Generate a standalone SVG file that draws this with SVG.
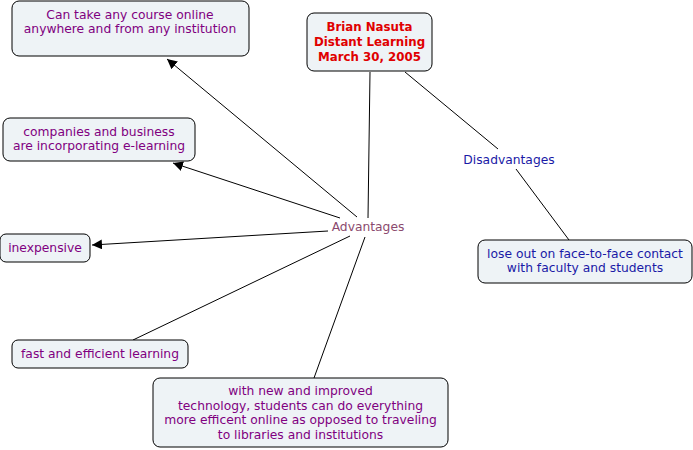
<svg xmlns="http://www.w3.org/2000/svg" width="693" height="450" viewBox="0 0 693 450">
<defs>
<style>
.box{fill:#eef3f6;stroke:#000;stroke-width:1}
.t{font-family:"DejaVu Sans",Verdana,sans-serif;font-size:12.3px;text-anchor:middle}
.p{fill:#800080}
.b{fill:#1a1aa6}
.r{fill:#e00000;font-weight:bold;font-size:11.8px}
.l{fill:#8b4a6e}
.c{stroke:#000;stroke-width:1;fill:none}
</style>
<marker id="ah" viewBox="0 0 10 10" refX="10" refY="5" markerWidth="10" markerHeight="10" markerUnits="userSpaceOnUse" orient="auto">
<path d="M0,0 L10,5 L0,10 z" fill="#000"/>
</marker>
</defs>
<rect width="693" height="450" fill="#fff"/>
<g id="connectors">
<line class="c" x1="357" y1="217" x2="167" y2="59" marker-end="url(#ah)"/>
<line class="c" x1="340" y1="218" x2="173" y2="163" marker-end="url(#ah)"/>
<line class="c" x1="328" y1="231" x2="92" y2="245" marker-end="url(#ah)"/>
<line class="c" x1="350" y1="236" x2="133" y2="340"/>
<line class="c" x1="365" y1="237" x2="314" y2="378"/>
<line class="c" x1="370" y1="72" x2="368" y2="218"/>
<line class="c" x1="405" y1="72" x2="498" y2="149"/>
<line class="c" x1="516" y1="169" x2="569" y2="240"/>
</g>
<g id="n-title">
<rect class="box" x="307" y="13" width="125" height="58" rx="7"/>
<text class="t r" x="369.500" y="31">Brian Nasuta</text>
<text class="t r" x="369.500" y="46">Distant Learning</text>
<text class="t r" x="369.500" y="61">March 30, 2005</text>
</g>
<g id="n-course">
<rect class="box" x="12" y="1" width="237" height="55" rx="7"/>
<text class="t p" x="130" y="19">Can take any course online</text>
<text class="t p" x="130" y="33">anywhere and from any institution</text>
</g>
<g id="n-companies">
<rect class="box" x="3" y="118" width="192" height="43" rx="7"/>
<text class="t p" x="99" y="136">companies and business</text>
<text class="t p" x="99" y="150">are incorporating e-learning</text>
</g>
<g id="n-inexpensive">
<rect class="box" x="0" y="234" width="90" height="28" rx="6"/>
<text class="t p" x="45" y="252">inexpensive</text>
</g>
<g id="n-advantages">
<text class="t l" x="368" y="231">Advantages</text>
</g>
<g id="n-fast">
<rect class="box" x="12" y="340" width="176" height="28" rx="6"/>
<text class="t p" x="100" y="358">fast and efficient learning</text>
</g>
<g id="n-tech">
<rect class="box" x="153" y="378" width="295" height="69" rx="7"/>
<text class="t p" x="300.500" y="395">with new and improved</text>
<text class="t p" x="300.500" y="410">technology, students can do everything</text>
<text class="t p" x="300.500" y="424">more efficent online as opposed to traveling</text>
<text class="t p" x="300.500" y="439">to libraries and institutions</text>
</g>
<g id="n-disadvantages">
<text class="t b" x="509" y="164">Disadvantages</text>
</g>
<g id="n-loseout">
<rect class="box" x="478" y="240" width="214" height="43" rx="7"/>
<text class="t b" x="585" y="258">lose out on face-to-face contact</text>
<text class="t b" x="585" y="272">with faculty and students</text>
</g>
</svg>
